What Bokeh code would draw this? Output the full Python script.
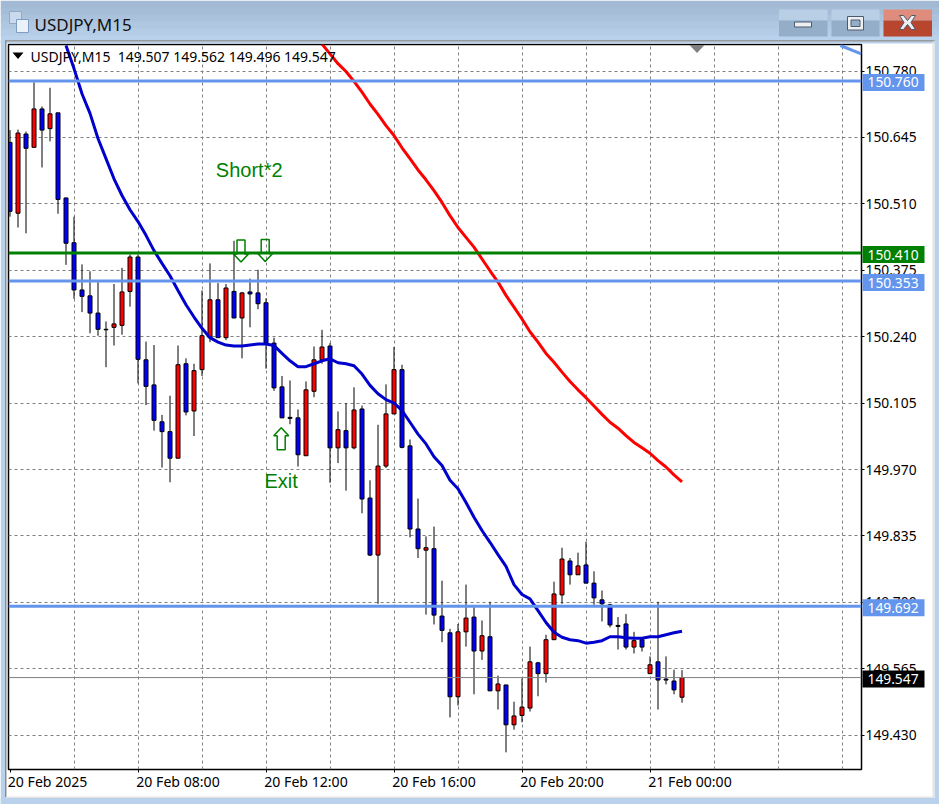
from bokeh.embed import file_html
from bokeh.resources import INLINE
from bokeh.plotting import figure
from bokeh.core.properties import value
from bokeh.models import (ColumnDataSource, FixedTicker, Label, LinearAxis, PolyAnnotation,
                          Range1d, Span)

symbol = "USDJPY,M15"
opens = [150.635,150.491,150.652,150.625,150.703,150.663,150.695,150.522,150.431,150.335,150.323,150.288,150.255,150.259,150.263,150.332,150.402,150.193,150.142,150.067,150.047,149.993,150.185,150.089,150.173,150.238,150.315,150.238,150.332,150.278,150.331,150.329,150.309,150.227,150.138,150.076,150.075,149.998,150.129,150.193,150.221,150.014,150.049,150.014,150.093,149.912,149.796,149.977,150.083,150.173,150.018,149.849,149.806,149.809,149.672,149.638,149.508,149.640,149.670,149.601,149.630,149.520,149.532,149.451,149.470,149.485,149.577,149.555,149.624,149.715,149.784,149.756,149.776,149.739,149.705,149.695,149.653,149.656,149.609,149.624,149.555,149.579,149.544,149.540,149.507]
closes = [150.495,150.654,150.623,150.703,150.660,150.693,150.519,150.430,150.335,150.322,150.288,150.255,150.254,150.266,150.331,150.402,150.194,150.139,150.070,150.047,149.993,150.183,150.087,150.171,150.242,150.315,150.238,150.339,150.278,150.329,150.327,150.307,150.227,150.136,150.075,150.074,150.000,150.132,150.193,150.219,150.014,150.051,150.014,150.091,149.910,149.796,149.977,150.083,150.173,150.015,149.849,149.809,149.811,149.674,149.643,149.508,149.640,149.668,149.601,149.632,149.520,149.534,149.451,149.469,149.487,149.579,149.555,149.624,149.717,149.788,149.756,149.774,149.739,149.709,149.697,149.654,149.651,149.609,149.622,149.609,149.573,149.542,149.542,149.522,149.547]
highs = [150.660,150.661,150.657,150.757,150.708,150.746,150.695,150.523,150.484,150.387,150.373,150.351,150.271,150.347,150.380,150.407,150.407,150.230,150.223,150.081,150.120,150.222,150.196,150.185,150.334,150.389,150.349,150.347,150.435,150.331,150.358,150.376,150.318,150.238,150.160,150.151,150.092,150.149,150.220,150.254,150.227,150.088,150.105,150.137,150.100,149.948,150.061,150.143,150.219,150.183,150.031,149.911,149.834,149.854,149.744,149.646,149.656,149.736,149.690,149.663,149.701,149.551,149.532,149.498,149.545,149.610,149.579,149.634,149.742,149.811,149.790,149.801,149.823,149.763,149.724,149.697,149.670,149.676,149.640,149.628,149.590,149.701,149.590,149.563,149.562]
lows = [150.484,150.462,150.450,150.625,150.584,150.637,150.490,150.386,150.317,150.290,150.247,150.242,150.178,150.222,150.244,150.301,150.145,150.101,150.049,149.974,149.944,149.993,150.080,150.038,150.160,150.229,150.238,150.233,150.278,150.196,150.259,150.296,150.175,150.130,150.075,150.062,149.976,149.998,150.117,150.185,149.943,149.983,149.927,150.011,149.881,149.794,149.697,149.973,150.083,150.013,149.832,149.790,149.675,149.655,149.619,149.466,149.490,149.610,149.513,149.583,149.520,149.482,149.395,149.441,149.456,149.478,149.509,149.537,149.624,149.697,149.736,149.756,149.739,149.695,149.661,149.649,149.604,149.604,149.596,149.600,149.555,149.482,149.533,149.513,149.496]
ma_fast = [150.832,150.785,150.734,150.694,150.643,150.602,150.561,150.527,150.498,150.474,150.446,150.415,150.389,150.364,150.334,150.305,150.280,150.257,150.238,150.229,150.223,150.221,150.221,150.223,150.225,150.225,150.222,150.206,150.191,150.179,150.179,150.185,150.191,150.195,150.187,150.185,150.181,150.164,150.141,150.124,150.112,150.105,150.090,150.066,150.042,150.022,149.996,149.978,149.948,149.931,149.903,149.873,149.846,149.822,149.797,149.773,149.736,149.716,149.707,149.683,149.659,149.639,149.629,149.624,149.622,149.617,149.619,149.622,149.630,149.630,149.628,149.627,149.627,149.630,149.630,149.634,149.638,149.641]
ma_slow = [150.835,150.815,150.795,150.779,150.759,150.737,150.713,150.692,150.669,150.649,150.624,150.602,150.579,150.559,150.537,150.513,150.486,150.462,150.442,150.422,150.398,150.374,150.351,150.324,150.300,150.276,150.250,150.229,150.206,150.188,150.168,150.149,150.132,150.116,150.099,150.082,150.066,150.054,150.039,150.025,150.014,150.003,149.988,149.975,149.959,149.945]
ma_fast_start = 7
ma_slow_start = 39
trend_bars = [103.8, 106.4]
trend_prices = [150.832, 150.815]

y_ticks = [150.780,150.645,150.510,150.375,150.240,150.105,149.970,149.835,149.700,149.565,149.430]
x_tick_bars = [0,16,32,48,64,80]
x_labels = ["20 Feb 2025","20 Feb 08:00","20 Feb 12:00","20 Feb 16:00","20 Feb 20:00","21 Feb 00:00"]
x_grid_bars = list(range(8, 106, 8))
level_prices = [150.760,150.353,149.692]
entry_price = 150.410
bid_price = 149.547
header = "USDJPY,M15\u00a0 149.507 149.562 149.496 149.547"
note_text = ["Short*2","Exit"]
note_bars = [29.9,33.9]
note_prices = [150.578,149.947]
down_bars = [28.875,31.9]
down_tips = [150.392,150.393]
up_bars = [33.9]
up_tips = [150.055]

assert len(opens) == len(closes) == len(highs) == len(lows) == 85

W, H = 939, 804
F_L, F_R, F_T, F_B = 8, 861, 44, 769
BAR_PX, PRICE_PX = 8.0, 491.9
TOP_PRICE = 150.834
CORNFLOWER, GREEN = "#6495ED", "#008000"
FONT, FONT_SIZE = "Noto Sans", "13.8px"

def price_px(v):
    return F_T + (TOP_PRICE - v) * PRICE_PX

p = figure(width=W, height=H, output_backend="svg", toolbar_location=None,
           x_range=Range1d(-0.1875, -0.1875 + (F_R - F_L) / BAR_PX),
           y_range=Range1d(TOP_PRICE - (F_B - F_T) / PRICE_PX, TOP_PRICE),
           y_axis_location="right", min_border_left=F_L, min_border_right=W - F_R,
           min_border_top=F_T, min_border_bottom=H - F_B,
           background_fill_color="white", border_fill_color="white",
           outline_line_color="black", outline_line_width=1.5)

# axes and grid
yax = p.yaxis[0]
yax.ticker = FixedTicker(ticks=y_ticks)
yax.major_label_overrides = {v: f"{v:.3f}" for v in y_ticks}
yax.major_label_standoff = 1

tick_ax = p.xaxis[0]
tick_ax.ticker = FixedTicker(ticks=x_tick_bars)
tick_ax.major_label_text_font_size = "0px"
tick_ax.major_label_text_color = None
tick_ax.major_label_standoff = 0

label_shift_bars = [4.7, 5, 5, 5, 5, 5]
label_ticks = [b + s for b, s in zip(x_tick_bars, label_shift_bars)]
label_ax = LinearAxis(ticker=FixedTicker(ticks=label_ticks),
                      major_label_overrides=dict(zip(label_ticks, x_labels)),
                      major_tick_line_color=None, major_label_standoff=-1)
p.add_layout(label_ax, "below")

for ax in (tick_ax, label_ax, yax):
    ax.axis_line_color = None
    ax.major_tick_in = 0
    ax.major_tick_out = 3
    ax.minor_tick_line_color = None
    ax.major_label_text_font = FONT
    if ax is not tick_ax:
        ax.major_label_text_font_size = FONT_SIZE
        ax.major_label_text_color = "black"
label_ax.major_label_text_font_size = "14.1px"
tick_ax.major_tick_line_color = "black"
yax.major_tick_line_color = "black"
label_ax.major_tick_out = 0

p.xgrid[0].ticker = FixedTicker(ticks=x_grid_bars)
p.ygrid[0].ticker = FixedTicker(ticks=y_ticks)
for g in (p.xgrid[0], p.ygrid[0]):
    g.grid_line_color = "#808080"
    g.grid_line_dash = "3 3"
    g.grid_line_width = 1

# candles
bars = list(range(len(opens)))
colors = ["#FF0000" if c > o else "#0000FF" for o, c in zip(opens, closes)]
src = ColumnDataSource(dict(x=bars, high=highs, low=lows, o=opens, c=closes,
                            top=[max(a, b) for a, b in zip(opens, closes)],
                            bottom=[min(a, b) for a, b in zip(opens, closes)], color=colors))
p.segment("x", "high", "x", "low", source=src, line_color="black", line_width=1)
p.vbar(x="x", width=4 / BAR_PX, top="top", bottom="bottom", source=src, fill_color="color",
       line_color="black", line_width=1)

# moving averages and trend line
p.line([ma_fast_start + k for k in range(len(ma_fast))], ma_fast, line_color="#0000CD", line_width=3)
p.line([ma_slow_start + k for k in range(len(ma_slow))], ma_slow, line_color="#FF0000", line_width=3)
p.line(trend_bars, trend_prices, line_color=CORNFLOWER, line_width=3)

# horizontal levels
for lv in level_prices:
    p.add_layout(Span(location=lv, dimension="width", line_color=CORNFLOWER, line_width=3))
p.add_layout(Span(location=entry_price, dimension="width", line_color=GREEN, line_width=3))
p.add_layout(Span(location=bid_price, dimension="width", line_color="#808080", line_width=1))

# arrows: direction +1 has its tip on top, -1 at the bottom
def arrow(bar, tip, direction):
    def xy(dx, dy):
        return bar + dx / BAR_PX, tip - direction * dy / PRICE_PX
    pts = [xy(0, 0), xy(7.5, 8), xy(4, 8), xy(4, 22), xy(-4, 22), xy(-4, 8), xy(-7.5, 8)]
    return [a for a, _ in pts], [b for _, b in pts]

ax_list, ay_list = [], []
for b, t in zip(down_bars, down_tips):
    xs, ys = arrow(b, t, -1)
    ax_list.append(xs); ay_list.append(ys)
for b, t in zip(up_bars, up_tips):
    xs, ys = arrow(b, t, 1)
    ax_list.append(xs); ay_list.append(ys)
p.patches(ax_list, ay_list, fill_alpha=0, line_color=GREEN, line_width=1.5)

p.text(note_bars, note_prices, text=note_text, text_color=GREEN, text_align="center",
       text_baseline="middle", text_font=value("Liberation Sans"), text_font_size="20px")

# header and markers inside the frame
def frame_poly(xs, ys, color):
    p.add_layout(PolyAnnotation(xs=xs, ys=ys, xs_units="canvas", ys_units="canvas", fill_color=color,
                                fill_alpha=1, line_alpha=0, level="annotation", editable=False))

frame_poly([12, 23, 17.5], [52, 52, 58.5], "black")
frame_poly([689, 704, 696.5], [44.5, 44.5, 52.5], "#808080")
p.add_layout(Label(x=30, y=56, x_units="canvas", y_units="canvas", text=header, text_font=FONT,
                   text_font_size="14px", text_color="black", text_baseline="middle"))

# transparent overlay in canvas pixels: window chrome and price tags
ov = figure(width=W, height=H, output_backend="svg", toolbar_location=None,
            x_range=Range1d(0, W), y_range=Range1d(H, 0),
            x_axis_location=None, y_axis_location=None,
            min_border=0, min_border_left=0, min_border_right=0, min_border_top=0, min_border_bottom=0,
            background_fill_color=None, border_fill_color=None, outline_line_color=None)
ov.grid.visible = False
ov.styles = {"position": "absolute", "left": "0px", "top": "0px", "z-index": "10"}

def box(l, r, t, b, color, line=None):
    ov.quad(left=[l], right=[r], top=[t], bottom=[b], fill_color=color, line_color=line)

bands = ["#A2B9D4", "#A6BDD8", "#ABC2DC", "#B0C7E0", "#B4CCE5", "#B9D1EA"]
for k, c in enumerate(bands):
    box(0, W, k * 7, (k + 1) * 7 + 1, c)
box(0, 4.5, 40, H, "#B9D1EA")
box(W - 5, W, 40, H, "#B9D1EA")
box(0, W, 797.5, H, "#B9D1EA")
box(4.5, 6, 40, 797, "#8D8D8D")
box(4.5, W - 5, 39.5, 41, "#9A9A9A")
box(W - 7, W - 5, 41, 797, "#E4E4E4")
box(6, W - 5, 796, 797.5, "#E4E4E4")

box(778.5, 827, 9, 20, "#B9CFE6")
box(778.5, 827, 20, 36, "#94AEC9")
box(831, 879, 9, 20, "#B9CFE6")
box(831, 879, 20, 36, "#94AEC9")
box(883, 931.5, 9, 20, "#E08C7C")
box(883, 931.5, 20, 36, "#B8452D")
box(794, 811, 21.5, 26.5, "#EDEFF2", "#4C5A6C")
box(847, 863, 16, 29.5, "#EDEFF2", "#4C5A6C")
box(850.5, 859.5, 19.5, 26, "#94AEC9", "#4C5A6C")
ov.patch([899, 903, 907, 911, 915, 910.5, 915, 911, 907, 903, 899, 903.5],
         [15, 15, 20, 15, 15, 22, 29, 29, 24, 29, 29, 22], fill_color="#EDEFF2", line_color="#4C5A6C")
box(9, 21, 11, 23, "#C9DAEC", "#8FA9C6")
box(16, 28, 19, 32, "#EAF1F8", "#7F9DC0")
ov.text([34], [24], text=[symbol], text_font=value(FONT), text_font_size="17px", text_color="#101010",
        text_baseline="middle")

tags = [(v, CORNFLOWER) for v in level_prices] + [(entry_price, GREEN), (bid_price, "black")]
for v, c in tags:
    y = price_px(v) + 1.5
    box(862, 924, y - 8.5, y + 8.5, c)
    ov.text([867], [y], text=[f"{v:.3f}"], text_font=value(FONT), text_font_size=FONT_SIZE,
            text_color="white", text_baseline="middle")

open("out.html", "w").write(file_html([p, ov], INLINE))
